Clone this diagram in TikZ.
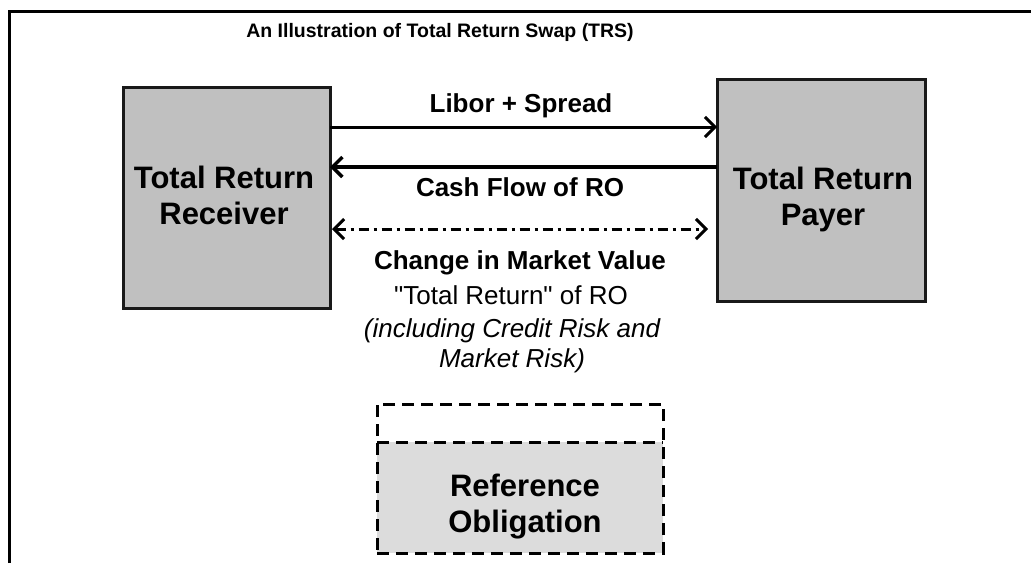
\documentclass[tikz,border=0pt]{standalone}
\usepackage{fontspec}
\setmainfont[Ligatures=TeXOff]{Liberation Sans}
\usetikzlibrary{arrows.meta}
\definecolor{boxgray}{HTML}{C0C0C0}
\definecolor{refgray}{HTML}{DCDCDC}
\begin{document}
\begin{tikzpicture}[x=1pt,y=-1pt,
  every node/.style={inner sep=0pt,outer sep=0pt},
  party/.style={draw=black!90,line width=3pt,fill=boxgray},
  bigtxt/.style={align=center,font=\fontsize{31}{36}\selectfont\bfseries,text depth=0pt},
  lbl/.style={anchor=base,font=\fontsize{26}{30}\selectfont\bfseries},
  plain/.style={anchor=base,font=\fontsize{26}{30}\selectfont},
  note/.style={align=center,font=\fontsize{26}{30}\selectfont\itshape,text depth=0pt},
  flow/.style={line width=3.5pt,-{Straight Barb[length=10pt,width=20pt]}},
  value/.style={line width=3pt,dash pattern=on 10pt off 5pt on 3pt off 5pt,
    {Straight Barb[length=10pt,width=20pt]}-{Straight Barb[length=10pt,width=20pt]}},
  refline/.style={draw=black,line width=3pt,dash pattern=on 12pt off 7pt}
]
\useasboundingbox (0,0) rectangle (1031,563);
% frame
\draw[line width=3pt] (9,563) -- (9,11) -- (1031,11);
% title
\node[anchor=base,font=\fontsize{19.5}{23}\selectfont\bfseries] (title) at (440,37) {An Illustration of Total Return Swap (TRS)};
% parties
\node[party,minimum width=207pt,minimum height=221pt] (recv) at (226.5,197.5) {};
\node[party,minimum width=208pt,minimum height=222pt] (pay) at (821,190) {};
\node[bigtxt] (recvtxt) at (224,195) {Total Return\\Receiver};
\node[bigtxt] (paytxt) at (823,196) {Total Return\\Payer};
% flow levels
\coordinate (y1) at (0,127);
\coordinate (y2) at (0,167);
\coordinate (y3) at (0,229);
\draw[flow,line width=3pt] (recv.east |- y1) -- (pay.west |- y1);
\draw[flow] (pay.west |- y2) -- (recv.east |- y2);
\draw[value,shorten <=2pt,shorten >=9pt] (recv.east |- y3) -- (pay.west |- y3);
% labels
\node[lbl] (lib) at (521,112) {Libor + Spread};
\node[lbl] (cash) at (520,196) {Cash Flow of RO};
\node[lbl] (change) at (520,269) {Change in Market Value};
\node[plain] (tr) at (511,304) {"Total Return" of RO};
\node[note] (incl) at (512,343) {(including Credit Risk and\\Market Risk)};
% reference obligation
\node[fill=refgray,minimum width=286pt,minimum height=111pt] (refbody) at (520,497.5) {};
\node[refline,minimum width=286pt,minimum height=149pt] (ref) at (520,478.5) {};
\draw[refline] (ref.west |- refbody.north) -- (ref.east |- refbody.north);
\node[bigtxt] (reftxt) at (525,503) {Reference\\Obligation};
\end{tikzpicture}
\end{document}
